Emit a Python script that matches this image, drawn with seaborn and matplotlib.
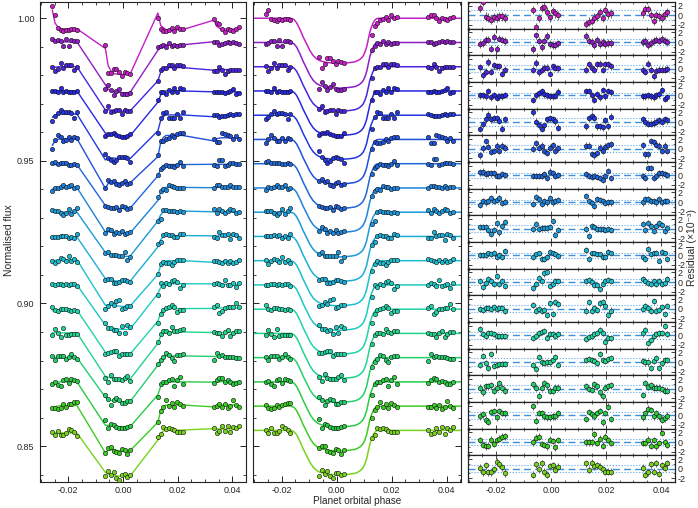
import numpy as np
import pandas as pd
import matplotlib
matplotlib.use("Agg")
import matplotlib.pyplot as plt
from matplotlib.ticker import MultipleLocator, FormatStrFormatter
import seaborn as sns

# exposure phases, one list per HST orbit
orbit1_phase = [-0.0258, -0.0248, -0.0238, -0.0228, -0.0218, -0.0208, -0.0198, -0.0188, -0.0178, -0.0168]
orbit2_phase = [-0.0064, -0.0054, -0.0044, -0.0034, -0.0024, -0.0014, -0.0004, 0.0006, 0.0016, 0.0026]
orbit3_phase = [0.0128, 0.0138, 0.0148, 0.0158, 0.0168, 0.0178, 0.0188, 0.0198, 0.0208, 0.0218]
orbit4_phase = [0.0333, 0.0343, 0.0353, 0.0363, 0.0373, 0.0383, 0.0393, 0.0403, 0.0413, 0.0423]

# transit shape (fraction of depth) at the exposures
shape_orbit1 = [0, 0, 0, 0, 0, 0, 0, 0, 0, 0]
shape_orbit2 = [0.935, 0.955, 0.97, 0.98, 0.99, 0.995, 1.0, 1.0, 0.999, 0.997]
shape_orbit3 = [0.25, 0.09, 0.02, 0, 0, 0, 0, 0, 0, 0]
shape_orbit4 = [0, 0, 0, 0, 0, 0, 0, 0, 0, 0]

# smooth transit model
model_phase = [-0.0303, -0.0165, -0.0155, -0.01455, -0.0134, -0.0122, -0.0109, -0.0097, -0.0085,
               -0.0073, -0.0061, -0.0048, -0.0036, -0.0018, 0.0, 0.0018, 0.0036, 0.0052, 0.0067,
               0.0077, 0.0085, 0.0092, 0.0097, 0.0103, 0.0109, 0.0115, 0.0121, 0.0127, 0.0133,
               0.0139, 0.0145, 0.0152, 0.0451]
model_shape = [0, 0, 0.03, 0.10, 0.24, 0.41, 0.57, 0.72, 0.83, 0.90, 0.94, 0.965, 0.98, 0.993,
               1.0, 0.998, 0.99, 0.98, 0.965, 0.94, 0.91, 0.87, 0.83, 0.75, 0.64, 0.47, 0.30,
               0.19, 0.10, 0.04, 0.01, 0, 0]

# one light curve per wavelength bin
baseline = [1.0000, 0.9915, 0.9830, 0.9745, 0.9660, 0.9575, 0.9490, 0.9405, 0.9320,
            0.9235, 0.9150, 0.9065, 0.8980, 0.8895, 0.8810, 0.8725, 0.8640, 0.8555]
depth = [15.8, 16.0, 15.6, 15.6, 15.5, 15.6, 15.7, 15.6, 15.7,
         15.8, 15.8, 15.9, 15.8, 15.8, 15.7, 15.8, 15.7, 15.6]  # x1e-3
colors = ["#c41ec4", "#901ec8", "#4a24e0", "#2828e4", "#2438e2", "#2050de", "#1e68da", "#1c84dc",
          "#1a9ada", "#1aaed6", "#1ac0d0", "#1ccac0", "#1ed4a8", "#20d48c", "#22d06c", "#28cc44",
          "#3ccc22", "#78d21e"]
errors = [0.9, 0.8, 0.75, 0.7, 0.75, 0.7, 0.65, 0.65, 0.65, 0.6, 0.65, 0.65, 0.65, 0.65, 0.7, 0.7, 0.7, 0.75]

# systematics seen in the raw light curves (x1e-3): level per orbit and ramp hook
sys_level = [[-3.7, -3.9, -4.0, -3.8], [0.2, -1.6, -0.8, -0.4], [0.0, 0.0, -0.3, -1.0],
             [0.0, -0.2, 0.0, -0.3], [0.4, 0.2, 0.1, 0.0], [0.3, 0.3, 1.4, 0.6],
             [-0.3, 0.0, -0.3, -0.2], [0.1, -0.3, 0.2, 0.3], [0.0, 0.2, 0.4, 0.0],
             [-0.2, 0.0, 0.3, 0.2], [0.3, -0.2, 0.0, -0.3], [0.0, 0.3, 0.4, 0.2],
             [-0.3, 0.0, 0.2, 0.4], [0.2, -0.3, 0.5, 0.3], [0.0, 0.2, 0.6, 0.2],
             [0.0, 0.0, 0.0, 0.1], [0.2, 0.0, 0.4, 0.4], [-0.9, -0.5, 0.1, 0.5]]
sys_hook = [7.0, 1.5, -0.5, 0.0, -1.2, -2.5, 0.0, -0.5, 0.3, 0.0, -0.6, 0.4, -0.3, 0.0, 0.5, -0.4, -1.5, 0.3]
hook_orbit_scale = [0.95, 1.15, 1.4, 0.45]
hook_profile = [1.0, 0.3, 0.1, 0, 0, 0, 0, 0, 0, 0]

# residuals (x1e-3), 10 exposures per orbit
residuals = [
    [1.5, 2.9, -0.3, -0.5, -0.9, -0.4, -0.5, -0.2, -0.2, -0.5, 1.1, -2.5, -0.6, 1.5, 1.8, 0.8, -0.4, 0.9, 0.4, 0.0,
     -1.8, -1.3, -1.2, -0.5, -0.2, 0.6, -0.6, 1.1, 0.2, 0.4, 0.4, 1.3, 1.3, 0.1, -1.1, 0.1, -0.2, -0.5, 0.2, 0.6],
    [-0.4, -0.2, 0.5, 0.5, -1.4, 1.0, -1.4, 0.7, 0.5, 0.2, -1.5, 1.4, 0.3, -1.1, 0.3, 1.2, -0.4, -0.6, -0.6, -0.3,
     1.2, 0.3, 0.0, -0.7, 0.5, -0.4, 0.0, -0.4, -0.2, -0.2, 0.0, 0.2, -0.6, -0.2, 0.3, 0.5, 0.3, 0.7, 0.3, 0.0],
    [0.3, -1.4, -0.6, 1.4, -0.6, 0.7, 0.5, 0.5, -1.1, -0.2, -0.2, 1.2, -0.8, -0.2, 0.2, 0.2, -1.1, 0.5, 0.2, 0.1,
     -0.2, 0.9, 0.2, -0.2, 0.9, 1.0, -0.2, 0.9, 0.9, 0.5, -0.2, -0.6, 1.0, -0.2, -1.6, -0.4, -0.2, -0.2, -0.2, 0.0],
    [0.0, 0.0, -0.2, 0.9, -0.4, 0.1, -0.5, -0.2, -0.2, 0.1, -1.0, 0.0, 0.4, 0.9, 0.2, 0.0, -0.2, -0.2, -0.1, 0.8,
     0.9, 0.9, 0.0, -0.9, 0.2, -0.4, 1.1, -0.2, 0.9, 0.6, -0.2, -0.2, 0.0, -0.2, -0.4, 0.0, 0.2, 1.1, -0.7, -0.4],
    [-1.4, -0.5, 0.6, 1.5, 0.6, 0.8, 0.8, 0.3, -1.4, 0.6, 2.0, 0.1, -0.7, -1.4, -0.7, 0.6, 0.8, 0.6, 0.2, -1.2,
     -0.9, 0.8, 1.3, 0.9, -0.9, -0.9, -1.1, 0.4, -0.9, 1.1, 0.6, 0.1, -0.4, -0.4, -0.2, 0.1, 0.4, 0.1, 0.6, 0.4],
    [-1.4, 0.1, 1.6, 0.4, -0.7, -0.5, 0.6, -0.4, 0.6, 0.2, 0.0, 1.1, 0.2, 0.6, -0.4, -0.9, 0.2, 0.7, -0.4, 0.1,
     0.6, 0.6, -1.1, -1.4, -0.9, 0.2, -0.4, 0.4, 0.7, 0.9, 0.7, -1.2, -1.2, 1.6, 1.3, 0.8, 0.6, -0.4, 0.6, -0.5],
    [0.6, 0.8, 0.2, 0.4, 0.4, 0.4, -0.2, -0.2, 0.2, 0.0, -0.2, -0.2, -0.2, -0.2, 0.2, -0.5, 0.8, 0.4, -0.2, 0.1,
     0.2, -0.2, -0.4, -0.2, -0.4, -0.5, -0.9, -0.2, 0.9, -0.5, -0.2, -0.5, 1.6, 1.6, -0.5, -0.2, 0.4, 0.4, 0.2, 0.0],
    [-0.6, 0.2, -0.1, 0.2, 0.9, 0.2, 0.5, 0.9, -0.2, 0.1, -0.4, 1.1, 0.7, -0.4, 0.2, -0.1, 0.9, -0.1, 0.2, 0.5,
     1.2, 0.2, -0.2, -0.8, 0.7, 0.4, 0.2, -0.2, -0.1, -0.1, -0.1, 0.7, 0.7, 0.2, 0.2, -0.1, 0.7, -0.1, 0.2, 0.2],
    [0.4, 0.4, 0.4, -0.2, -1.1, -0.2, 1.1, -0.8, 0.5, 1.4, -0.1, 0.9, -0.1, 0.2, 0.2, 0.2, 0.3, 1.6, -1.3, -0.2,
     -0.1, -1.6, 0.5, 0.4, -0.1, -0.1, -0.1, -0.2, -0.1, -0.2, 0.9, -0.2, 1.2, 0.5, -0.4, 0.5, 1.1, 0.7, -0.4, 0.2],
    [0.0, 0.0, 0.0, 0.4, 0.2, 0.5, -0.4, 0.0, -0.4, 0.9, -0.4, 0.2, 0.4, -0.7, -0.7, -0.4, 0.7, 0.4, 0.2, -0.2,
     1.1, -0.7, 0.4, 0.4, 0.2, 0.2, -0.4, -0.4, 0.7, 0.4, -0.4, -0.7, 1.4, 0.2, 0.4, 0.5, -1.1, 0.7, 0.4, -0.7],
    [0.2, -1.1, -0.2, 0.6, 0.2, -0.4, 1.3, -0.4, 0.2, -0.9, -1.2, -0.4, 0.9, 0.2, 1.8, 2.2, -0.9, -0.5, 0.2, 0.2,
     0.2, 0.4, 0.1, -0.7, -0.7, -1.4, -0.4, 0.2, 0.4, 0.2, 0.6, 0.2, -0.2, -0.5, 0.2, -0.5, 0.2, -0.5, -0.2, 0.6],
    [0.0, -0.2, 0.2, 0.2, 0.0, 0.4, 0.0, 0.2, 0.2, -0.5, 0.7, -0.4, 0.0, -0.5, -0.2, -1.4, 1.1, -1.1, 1.4, 0.9,
     -0.4, 1.4, -0.4, 0.2, -0.2, 1.1, 1.4, 0.5, -1.4, -0.4, 0.0, 0.5, 0.2, -0.4, 1.6, -0.4, -0.2, 0.4, -1.1, 0.5],
    [1.4, 0.2, -0.2, 0.5, 0.5, 0.2, -0.1, -0.2, -0.1, -0.2, -0.6, -0.2, 0.4, 0.7, 0.9, -0.6, 0.2, 0.2, -0.1, 0.2,
     -0.8, -0.4, -0.1, 0.2, 0.5, 1.1, 0.5, -1.3, -0.6, -0.6, 0.4, 1.2, -1.6, -0.9, -0.1, 0.2, 0.4, 0.5, 1.9, 0.2],
    [-0.6, 1.2, -0.2, -1.3, 1.6, -0.8, -0.6, -0.4, -0.4, -0.4, -0.6, -1.5, 1.1, -0.1, -0.2, -0.1, -0.1, 0.5, 1.1, -0.6,
     0.4, 0.7, 0.5, 0.2, -0.2, 1.6, 0.5, 0.2, 0.7, 0.9, 0.2, -0.1, -0.1, -1.3, 0.2, 0.9, -1.3, -0.2, 0.5, 0.5],
    [0.2, -0.8, 0.5, 0.5, 0.7, -0.4, 0.2, 1.2, 0.2, -0.4, 0.9, 0.2, -1.5, 0.2, 1.2, 0.7, -0.4, -0.4, 0.2, 0.2,
     0.5, -0.1, -0.2, 0.9, 0.5, -0.8, -1.6, 0.2, 0.5, 0.7, -1.3, 1.2, 0.4, 0.7, 0.2, 0.2, 0.2, -0.1, -0.4, -0.4],
    [-0.2, 0.2, -0.9, -1.3, 0.7, 0.9, -0.4, 0.9, 0.5, 0.4, 1.9, -1.1, 0.5, 0.4, -0.2, -0.4, -0.4, -0.2, -0.2, 0.4,
     -0.8, 0.7, 0.2, -0.2, 0.5, 0.9, -1.5, 0.5, 1.8, -0.8, -0.4, 0.5, 1.4, 1.1, -0.2, 0.4, -0.2, -0.9, -0.6, -0.1],
    [0.4, -0.6, -0.9, -0.8, 0.5, -0.4, 0.4, 0.7, 1.1, 1.2, -0.1, 0.9, 1.1, -0.4, -0.6, -0.9, 0.5, 0.2, -1.1, 0.4,
     -0.1, -0.1, -0.1, 1.6, -0.2, 0.7, -0.8, 1.1, 0.4, -0.2, -0.2, -0.2, 0.5, -0.8, 0.4, -0.9, -0.2, 1.9, -0.1, -0.6],
    [0.2, -0.8, 0.7, -0.8, -0.8, -0.1, 1.4, 0.9, 0.3, -0.9, -1.3, 0.9, -0.1, 1.1, -0.6, -1.3, 0.5, 0.7, -0.2, 0.4,
     1.1, -0.2, 1.2, 0.5, 0.7, 0.4, -0.1, -0.6, -0.6, -0.6, 0.2, -1.3, -0.8, 0.9, -0.6, 1.1, -1.1, 0.7, 0.2, 1.1],
]

phase = np.array(orbit1_phase + orbit2_phase + orbit3_phase + orbit4_phase)
data_shape = np.array(shape_orbit1 + shape_orbit2 + shape_orbit3 + shape_orbit4)
model_phase = np.array(model_phase)
model_shape = np.array(model_shape)

sns.set_style("ticks")
plt.rcParams["font.family"] = ["Liberation Sans", "DejaVu Sans"]
plt.rcParams["axes.unicode_minus"] = False
plt.rcParams["axes.linewidth"] = 0.8
plt.rcParams["axes.edgecolor"] = "#222222"

W, H = 698, 508
fig = plt.figure(figsize=(W / 100, H / 100), dpi=100)
ax_raw = fig.add_axes([40 / W, 26 / H, 206.3 / W, 480 / H])
ax_fit = fig.add_axes([253.3 / W, 26 / H, 207.4 / W, 480 / H])
n = len(baseline)
row_h = 480 / n
ax_res = [fig.add_axes([467.7 / W, (26 + row_h * (n - 1 - i)) / H, 207.3 / W, row_h / H]) for i in range(n)]

xlim = (-0.0303, 0.0451)

for i in range(n):
    c = colors[i]
    res = np.array(residuals[i])
    transit = baseline[i] - depth[i] * 1e-3 * data_shape
    sys = np.repeat(sys_level[i], 10) + sys_hook[i] * np.repeat(hook_orbit_scale, 10) * np.tile(hook_profile, 4)
    raw_model = transit + sys * 1e-3
    df = pd.DataFrame({"phase": phase, "raw_model": raw_model, "raw": raw_model + res * 1e-3,
                       "fit": transit + res * 1e-3, "res": res})
    mdf = pd.DataFrame({"phase": model_phase, "model": baseline[i] - depth[i] * 1e-3 * model_shape})

    # raw light curve with systematics model
    sns.lineplot(data=df, x="phase", y="raw_model", ax=ax_raw, color=c, lw=1.0,
                 sort=False, estimator=None)
    sns.scatterplot(data=df, x="phase", y="raw", ax=ax_raw, color=c, s=10,
                    edgecolor="#111111", linewidth=0.4, zorder=3)

    # detrended light curve with transit model
    sns.lineplot(data=mdf, x="phase", y="model", ax=ax_fit, color=c, lw=1.1,
                 sort=False, estimator=None)
    sns.scatterplot(data=df, x="phase", y="fit", ax=ax_fit, color=c, s=10,
                    edgecolor="#111111", linewidth=0.4, zorder=3)

    # residuals
    ax = ax_res[i]
    rms = np.std(res)
    ax.axhline(0, color="#3d8fdc", lw=1.0, ls=(0, (5, 3)), zorder=1)
    ax.axhline(rms, color="#5aa2e4", lw=0.8, ls=":", zorder=1)
    ax.axhline(-rms, color="#5aa2e4", lw=0.8, ls=":", zorder=1)
    ax.errorbar(df["phase"], df["res"], yerr=errors[i], fmt="none", ecolor="#6a6a6a",
                elinewidth=0.8, zorder=2)
    sns.scatterplot(data=df, x="phase", y="res", ax=ax, color=c, s=11,
                    edgecolor="#111111", linewidth=0.4, zorder=3)
    ax.set_xlim(*xlim)
    ax.set_ylim(-2.8, 2.8)
    ax.yaxis.set_major_locator(MultipleLocator(2))
    ax.yaxis.set_minor_locator(MultipleLocator(1))
    ax.xaxis.set_major_locator(MultipleLocator(0.02))
    ax.xaxis.set_minor_locator(MultipleLocator(0.005))
    ax.xaxis.set_major_formatter(FormatStrFormatter("%.2f"))
    ax.tick_params(which="both", direction="in", top=True, bottom=True, left=True, right=True,
                   labelleft=False, labelright=True, labelsize=6.5, pad=2, color="#222222")
    ax.tick_params(which="major", length=3, width=0.6)
    ax.tick_params(which="minor", length=1.5, width=0.5)
    ax.tick_params(axis="x", pad=3)
    ax.set_xlabel("")
    ax.set_ylabel("")
    if i < n - 1:
        ax.tick_params(labelbottom=False)
    for sp in ax.spines.values():
        sp.set_linewidth(0.9)

for ax in (ax_raw, ax_fit):
    ax.set_xlim(*xlim)
    ax.set_ylim(0.8374, 1.0057)
    ax.yaxis.set_major_locator(MultipleLocator(0.05))
    ax.yaxis.set_minor_locator(MultipleLocator(0.01))
    ax.yaxis.set_major_formatter(FormatStrFormatter("%.2f"))
    ax.xaxis.set_major_locator(MultipleLocator(0.02))
    ax.xaxis.set_minor_locator(MultipleLocator(0.005))
    ax.xaxis.set_major_formatter(FormatStrFormatter("%.2f"))
    ax.tick_params(which="both", direction="in", top=True, right=True, labelsize=6.5,
                   pad=4, color="#222222")
    ax.tick_params(axis="x", pad=3)
    ax.tick_params(which="major", length=4, width=0.7)
    ax.tick_params(which="minor", length=2, width=0.6)
    ax.set_xlabel("")
    ax.set_ylabel("")
ax_fit.tick_params(labelleft=False)

fig.text(0.013, 0.527, "Normalised flux", rotation=90, ha="center", va="center", fontsize=7.5)
fig.text(357 / W, 0.004, "Planet orbital phase", ha="center", va="bottom", fontsize=7.2)
fig.text(0.992, 0.512, "Residual (\u00d710\u207b\u00b3)", rotation=90, ha="center", va="center",
         fontsize=7.5)

fig.savefig("out.png", dpi=100)
